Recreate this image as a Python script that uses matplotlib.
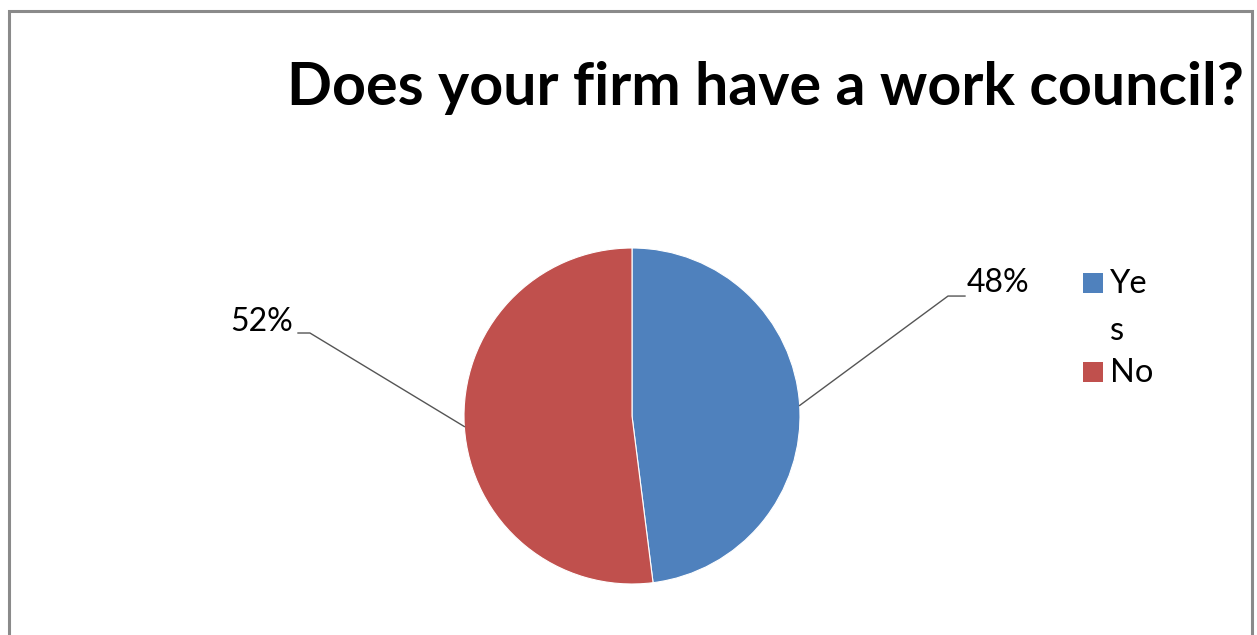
import textwrap
import matplotlib
matplotlib.use("Agg")
import matplotlib.pyplot as plt
from matplotlib.patches import Rectangle
import numpy as np

# Survey answers
categories = ["Yes", "No"]
shares = [48, 52]
colors = ["#4F81BD", "#C0504D"]
title = "Does your firm have a work council?"

W, H = 1257, 635
fig = plt.figure(figsize=(W / 100, H / 100), dpi=100)
plt.rcParams["font.family"] = ["Lato", "DejaVu Sans"]


def fx(px):
    return px / W


def fy(py):
    return 1 - py / H


# Chart frame
fig.patches.append(Rectangle((fx(9), fy(700)), fx(1252) - fx(9), fy(11) - fy(700),
                             transform=fig.transFigure, fill=False,
                             edgecolor="#8a8a8a", linewidth=2.2))

# Title
fig.text(fx(287), fy(105), title, fontsize=42.6, fontweight="bold",
         ha="left", va="baseline", color="black")

# Pie
cx, cy, r = 632, 416, 168
ax = fig.add_axes([fx(cx - r), fy(cy + r), fx(2 * r), fy(cy - r) - fy(cy + r)])
wedges, _ = ax.pie(shares, colors=colors, startangle=90, counterclock=False,
                   radius=1, wedgeprops=dict(edgecolor="white", linewidth=0.8))
ax.set_xlim(-1, 1)
ax.set_ylim(-1, 1)
ax.set_aspect("equal")
ax.axis("off")

# Data labels with leader lines
label_layout = [
    # elbow point, end of horizontal, text anchor, ha
    ((1.881, 0.714), (1.982, 0.714), (1.995, 0.79), "left"),
    ((-1.917, 0.494), (-1.988, 0.494), (-2.018, 0.56), "right"),
]
for w, val, (elbow, end, txt, ha) in zip(wedges, shares, label_layout):
    mid = np.deg2rad((w.theta1 + w.theta2) / 2)
    start = (np.cos(mid), np.sin(mid))
    ax.plot([start[0], elbow[0], end[0]], [start[1], elbow[1], end[1]],
            color="#555555", linewidth=1.0, clip_on=False)
    ax.text(txt[0], txt[1], f"{val}%", fontsize=23, ha=ha, va="center",
            color="black", clip_on=False)

# Legend (entry text wraps within the narrow legend column)
legend_rows = [273, 362]
line_step = 47
for lbl, col, top in zip(categories, colors, legend_rows):
    fig.patches.append(Rectangle((fx(1083), fy(top + 20)), fx(20), fy(top) - fy(top + 20),
                                 transform=fig.transFigure, facecolor=col,
                                 edgecolor="none"))
    for i, line in enumerate(textwrap.wrap(lbl, 2)):
        fig.text(fx(1110), fy(top + 20 + i * line_step), line, fontsize=23.5,
                 ha="left", va="baseline", color="black")

fig.savefig("out.png", dpi=100, facecolor="white")
